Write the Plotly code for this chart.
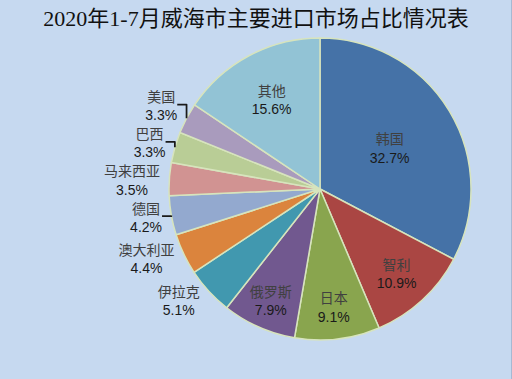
import plotly.graph_objects as go

title = "2020年1-7月威海市主要进口市场占比情况表"
countries = ["韩国", "智利", "日本", "俄罗斯", "伊拉克", "澳大利亚", "德国", "马来西亚", "巴西", "美国", "其他"]
shares = [32.7, 10.9, 9.1, 7.9, 5.1, 4.4, 4.2, 3.5, 3.3, 3.3, 15.6]
colors = ["#4572A7", "#AA4643", "#89A54E", "#71588F", "#4198AF", "#DB843D",
          "#93A9CF", "#D19392", "#B9CD96", "#A99BBD", "#92C3D5"]
text_pos = ["inside", "inside", "inside", "inside", "outside", "outside",
            "outside", "outside", "outside", "outside", "inside"]

W, H = 512, 379
cx, cy, r = 320, 189, 151

fig = go.Figure(go.Pie(
    labels=countries,
    values=shares,
    sort=False,
    direction="clockwise",
    rotation=0,
    marker=dict(colors=colors, line=dict(color="#D7E4BD", width=1.5)),
    texttemplate="<span style='font-family:Noto Sans CJK SC;color:#404040'>%{label}</span><br>%{value:.1f}%",
    textposition=text_pos,
    insidetextorientation="horizontal",
    textfont=dict(family="Liberation Sans, Noto Sans CJK SC", size=14, color="#1a1a1a"),
    domain=dict(x=[(cx - r) / W, (cx + r) / W], y=[1 - (cy + r) / H, 1 - (cy - r) / H]),
    hoverinfo="label+percent",
    showlegend=False,
))

fig.update_layout(
    width=W, height=H,
    margin=dict(l=0, r=0, t=0, b=0),
    paper_bgcolor="#C6D9F0",
    plot_bgcolor="#C6D9F0",
    uniformtext=dict(minsize=14, mode="show"),
    title=dict(text=title, x=0.5, xanchor="center", y=1 - 18 / H, yanchor="middle",
               font=dict(family="Liberation Serif, Noto Sans CJK SC", size=22, color="#111111")),
)
fig.add_shape(type="line", xref="paper", yref="paper", x0=1, x1=1, y0=0, y1=1,
              line=dict(color="#A6B9D3", width=2))

fig.write_html("out.html", config={"displayModeBar": False},
               post_script="document.body.style.margin='0';document.body.style.overflow='hidden';")
